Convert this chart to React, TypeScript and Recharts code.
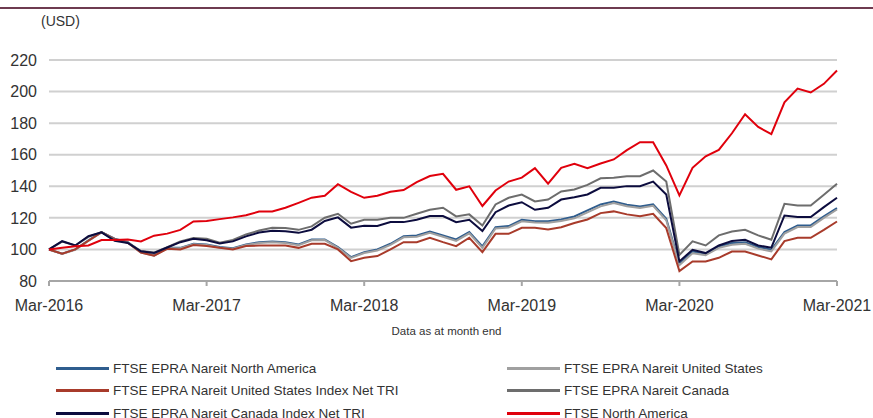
import { CartesianGrid, Line, LineChart, XAxis, YAxis } from "recharts";

// monthly index values, Mar-2016 = 100 ... Mar-2021
const northAmerica = [
  100, 97.3, 100, 105.7, 111, 106.8, 104.6, 98.3, 96.4, 101, 101, 103.6,
  103.2, 101.5, 100.8, 103.2, 104.6, 105.1, 104.6, 103.2, 106.3, 106.3, 101.5, 95.1,
  98.3, 100, 103.6, 108.4, 108.9, 111.4, 108.9, 106.3, 111, 101.9, 114.1, 114.8,
  118.8, 117.9, 117.9, 119, 120.9, 124.7, 128.5, 130.4, 128.3, 127.2, 128.5, 119.4,
  90.9, 98.7, 97.3, 101.9, 104, 104.6, 101.5, 99.8, 111, 115.2, 115.2, 120.9, 126.2,
];
const unitedStates = [
  100, 97.2, 99.8, 105.4, 110.8, 106.5, 104.3, 98, 96.1, 100.8, 100.7, 103.3,
  102.8, 101.1, 100.4, 102.8, 104.1, 104.5, 104, 102.7, 105.8, 105.9, 101, 94.6,
  97.7, 99.3, 102.9, 107.7, 108.1, 110.5, 108, 105.4, 110.2, 101, 113.3, 113.9,
  117.8, 117, 116.9, 118, 119.7, 123.5, 127.3, 129.4, 127.4, 126.3, 127.6, 118.5,
  90, 97.6, 96.4, 101, 103, 103.6, 100.5, 98.8, 110, 114.2, 114.2, 120, 125.3,
];
const unitedStatesNet = [
  100, 97.3, 100, 105.5, 111, 106.5, 104.2, 98, 96, 100.4, 100, 102.8,
  102.2, 101, 100, 102.1, 102.5, 102.5, 102.5, 101, 103.6, 103.6, 100, 92.6,
  94.7, 95.8, 100, 104.6, 104.6, 107.4, 104.6, 102.1, 107.4, 98.3, 109.9, 109.9,
  113.7, 113.7, 112.7, 114.1, 116.7, 119, 123, 124.1, 122.2, 121.1, 122.6, 113.5,
  86.3, 92.4, 92.4, 94.7, 98.7, 98.7, 96.2, 93.7, 105.3, 107.4, 107.4, 112.4, 117.7,
];
const canada = [
  100, 105, 102.5, 108, 111, 106, 104.5, 99, 98, 101.5, 105, 107.3,
  106.8, 104.3, 106, 109.5, 112, 113.7, 113.5, 112.4, 114.6, 120.1, 122.6, 116.3,
  118.8, 118.8, 120, 120, 122.6, 125.1, 126.4, 120.9, 122.2, 115.2, 128.5, 132.7,
  134.8, 130.4, 131.6, 136.7, 138, 140.9, 145.1, 145.4, 146.4, 146.4, 150, 143,
  96.5, 105.1, 102.5, 108.9, 111.4, 112.4, 108.9, 106.1, 128.9, 127.8, 127.8, 134.6, 141.6,
];
const canadaNet = [
  100, 105.2, 102.5, 108.4, 110.8, 105.5, 104.1, 98.8, 97.8, 101.2, 104.6, 106.8,
  105.8, 103.8, 105.1, 108.3, 110.7, 111.8, 111.5, 110.5, 112.5, 118, 120.3, 113.8,
  115, 114.8, 117.3, 117.3, 118.8, 121.1, 121.1, 117.3, 118.8, 111.6, 123.6, 127.8,
  129.9, 125.1, 126.4, 131.6, 133.1, 134.8, 139, 139, 140.1, 140.1, 143, 134.8,
  92.4, 99.8, 97.7, 102.5, 105.3, 106.1, 102.5, 101.1, 121.5, 120.5, 120.5, 126.8, 132.7,
];
const ftseNorthAmerica = [
  100, 101, 102, 102.5, 106, 106, 106.3, 105, 108.7, 110, 112.4, 117.7,
  118, 119.2, 120.3, 121.6, 124, 124, 126.4, 129.5, 132.8, 134, 141.3, 136.5,
  132.7, 134, 136.5, 137.6, 142.6, 146.5, 147.9, 137.8, 140, 127.5, 137.3, 143,
  145.5, 151.5, 141.6, 151.7, 154.2, 151.5, 154.4, 157, 162.9, 167.9, 167.9, 153.2,
  134.2, 151.7, 159, 163, 173.6, 185.6, 177.6, 173, 193.2, 201.9, 199.4, 204.9, 213.3,
];

const yearLabels = ["Mar-2016", "Mar-2017", "Mar-2018", "Mar-2019", "Mar-2020", "Mar-2021"];
const yTicks = [80, 100, 120, 140, 160, 180, 200, 220];

const series = [
  { key: "na", name: "FTSE EPRA Nareit North America", color: "#2f5d8e", values: northAmerica },
  { key: "us", name: "FTSE EPRA Nareit United States", color: "#a0a0a0", values: unitedStates },
  { key: "usNet", name: "FTSE EPRA Nareit United States Index Net TRI", color: "#a83b2b", values: unitedStatesNet },
  { key: "ca", name: "FTSE EPRA Nareit Canada", color: "#6d6d6d", values: canada },
  { key: "caNet", name: "FTSE EPRA Nareit Canada Index Net TRI", color: "#0c0c3e", values: canadaNet },
  { key: "fna", name: "FTSE North America", color: "#e0000c", values: ftseNorthAmerica },
];

const data = northAmerica.map((_, i) => {
  const row: Record<string, number> = { m: i };
  series.forEach((s) => (row[s.key] = s.values[i]));
  return row;
});

const font = "'Liberation Sans', Arial, sans-serif";

export default function App() {
  return (
    <div style={{ position: "absolute", left: 0, top: 0, width: 873, height: 418, background: "#fff", fontFamily: font, overflow: "hidden" }}>
      <div style={{ position: "absolute", left: 0, top: 7, width: 873, height: 2, background: "#6e3b50" }} />
      <div style={{ position: "absolute", left: 41, top: 13, fontSize: 14, color: "#333" }}>(USD)</div>
      <LineChart width={873} height={418} data={data} margin={{ top: 60, right: 36, bottom: 107, left: 0 }}>
        <CartesianGrid vertical={false} stroke="#d0d0d0" strokeWidth={2} />
        <XAxis
          dataKey="m"
          type="number"
          domain={[0, 60]}
          ticks={[0, 12, 24, 36, 48, 60]}
          tickFormatter={(v) => yearLabels[v / 12]}
          height={30}
          stroke="#a6a6a6"
          strokeWidth={2}
          tickSize={5}
          tickMargin={14}
          tick={{ fill: "#333", fontSize: 16, fontFamily: font }}
        />
        <YAxis
          domain={[80, 220]}
          ticks={yTicks}
          width={49}
          axisLine={false}
          tickLine={false}
          tickSize={0}
          tickMargin={12}
          tick={{ fill: "#333", fontSize: 16, fontFamily: font }}
        />
        {series.map((s) => (
          <Line
            key={s.key}
            dataKey={s.key}
            stroke={s.color}
            strokeWidth={2}
            dot={false}
            isAnimationActive={false}
          />
        ))}
      </LineChart>
      <div style={{ position: "absolute", left: 0, width: 873, top: 325, textAlign: "center", fontSize: 11.5, color: "#333", paddingLeft: 20, boxSizing: "border-box" }}>
        Data as at month end
      </div>
      {series.map((s, i) => (
        <div
          key={s.key}
          style={{
            position: "absolute",
            left: i % 2 === 0 ? 56 : 507,
            top: 360 + Math.floor(i / 2) * 22.5,
            height: 16,
            display: "flex",
            alignItems: "center",
            fontSize: 13.5,
            color: "#333",
            whiteSpace: "nowrap",
          }}
        >
          <span style={{ display: "inline-block", width: 53, height: 3, background: s.color, marginRight: 4 }} />
          {s.name}
        </div>
      ))}
    </div>
  );
}
